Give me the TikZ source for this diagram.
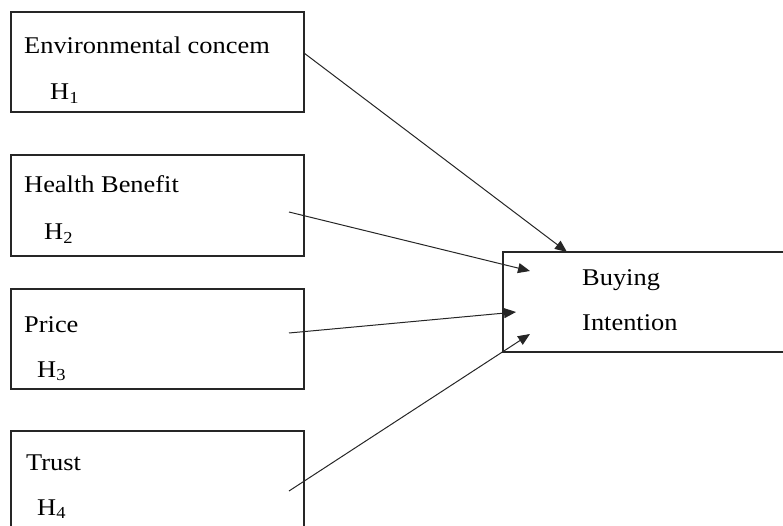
\documentclass[tikz,border=0pt]{standalone}
\usepackage{fontspec}
\setmainfont[FakeStretch=1.1]{Liberation Serif}
\usetikzlibrary{arrows.meta, positioning}

\begin{document}
\begin{tikzpicture}[
    x=1pt, y=-1pt,
    box/.style={rectangle, draw=black!85, line width=1.2pt, minimum width=293pt, minimum height=100pt, inner sep=0pt},
    lbl/.style={anchor=base west, inner sep=0pt, font=\fontsize{24}{28}\selectfont},
    arrow/.style={-{Triangle[length=12pt, width=10pt]}, line width=1pt, black!85}
]
\useasboundingbox (0,0) rectangle (783,526);

% factor boxes
\node[box] (env) at (157.5,62) {};
\node[box, minimum height=101pt] (health) at (157.5,205.5) {};
\node[box] (price) at (157.5,339) {};
\node[box, minimum height=120pt] (trust) at (157.5,491) {};

\node[lbl] (envtxt) at (24,54) {Environmental concem};
\node[lbl] (envh) at (50,100) {H\textsubscript{1}};
\node[lbl] (healthtxt) at (24,193) {Health Benefit};
\node[lbl] (healthh) at (44,240) {H\textsubscript{2}};
\node[lbl] (pricetxt) at (24,332) {Price};
\node[lbl] (priceh) at (37,377) {H\textsubscript{3}};
\node[lbl] (trusttxt) at (26,470) {Trust};
\node[lbl] (trusth) at (37,515) {H\textsubscript{4}};

% outcome box
\node[box, minimum width=297pt] (buy) at (651.5,302) {};
\node[lbl] (buytxt) at (582,285) {Buying};
\node[lbl] (inttxt) at (582,330) {Intention};

% arrow ends
\coordinate (s1) at (304,53);
\coordinate (s2) at (289,212);
\coordinate (s3) at (289,333);
\coordinate (s4) at (289,491);
\coordinate (t1) at (567,252);
\coordinate (t2) at (530,271);
\coordinate (t3) at (516,312);
\coordinate (t4) at (530,334);

\draw[arrow] (s1) -- (t1);
\draw[arrow] (s2) -- (t2);
\draw[arrow] (s3) -- (t3);
\draw[arrow] (s4) -- (t4);

\end{tikzpicture}
\end{document}
